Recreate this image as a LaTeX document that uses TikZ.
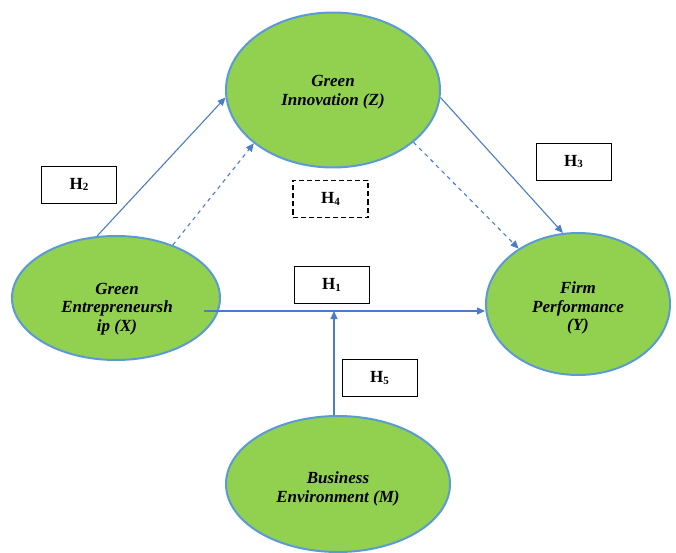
\documentclass[tikz,border=0pt]{standalone}
\usepackage{fontspec}
\setmainfont{Liberation Serif}
\usetikzlibrary{shapes.geometric,arrows.meta}
\definecolor{ellfill}{HTML}{92D050}
\definecolor{ellline}{HTML}{5B9BD5}
\definecolor{arr}{HTML}{4A7CC9}
\tikzset{
  var/.style={ellipse,draw=ellline,line width=2pt,fill=ellfill,inner sep=0pt},
  vtext/.style={align=center,font=\fontsize{17}{18.5}\selectfont\bfseries\itshape,inner sep=0pt},
  hbox/.style={draw=black,line width=0.9pt,minimum width=75pt,minimum height=37pt,inner sep=0pt,font=\fontsize{17}{17}\selectfont\bfseries},
  hboxd/.style={hbox,dashed,line width=1.8pt,dash pattern=on 5pt off 3pt},
  link/.style={draw=arr,line width=1.1pt,-{Triangle[length=8pt,width=7pt]}},
  linkd/.style={link,dashed,dash pattern=on 4pt off 4pt}
}
\newcommand{\hsub}[1]{H{\fontsize{11}{11}\selectfont\raisebox{-1.5pt}{#1}}}
\begin{document}
\begin{tikzpicture}[x=1pt,y=-1pt]
\useasboundingbox (0,0) rectangle (676,553);
% ellipses
\node[var,minimum width=214pt,minimum height=155pt] (Z) at (333,90) {};
\node[var,minimum width=208pt,minimum height=124pt] (X) at (116,298) {};
\node[var,minimum width=184pt,minimum height=142pt] (Y) at (578,304) {};
\node[var,minimum width=224pt,minimum height=136pt] (M) at (338,484) {};
% texts
\node[vtext] (Zt) at (333,92) {Green\\Innovation (Z)};
\node[vtext] (Xt) at (117,309) {Green\\Entrepreneursh\\ip (X)};
\node[vtext] (Yt) at (578,308) {Firm\\Performance\\(Y)};
\node[vtext] (Mt) at (338,489) {Business\\Environment (M)};
% hypothesis boxes
\node[hbox] (H2) at (79,184.5) {\hsub{2}};
\node[hboxd] (H4) at (330.5,199) {\hsub{4}};
\node[hbox] (H3) at (573.5,161.5) {\hsub{3}};
\node[hbox] (H1) at (331.5,285) {\hsub{1}};
\node[hbox] (H5) at (379.5,378) {\hsub{5}};
% connectors
\path[link] (X.107) -- (Z.184);
\path[linkd] (X.43) -- (Z.214);
\path[link] (Z.-4) -- (Y.102);
\path[linkd] (Z.-33) -- (Y.137);
\coordinate (Xs) at (204,311);
\coordinate (J) at (334,311);
\path[link] (Xs) -- (Xs -| Y.west);
\path[link] (M.north -| J) -- (J);
\end{tikzpicture}
\end{document}
